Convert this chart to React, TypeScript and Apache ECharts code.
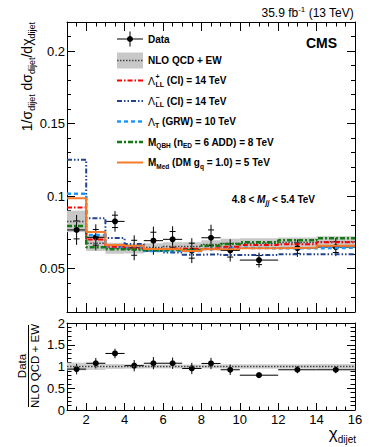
import React, { useEffect, useRef } from "react";
import * as echarts from "echarts";

// ---------------- data ----------------
const binEdges = [1, 2, 3, 4, 5, 6, 7, 8, 9, 10, 12, 14, 16];
const dataValues = [0.0766, 0.0715, 0.0825, 0.0643, 0.0692, 0.0701, 0.0623, 0.0712, 0.0625, 0.0558, 0.064, 0.0648];
const dataErrors = [0.0103, 0.009, 0.0071, 0.0086, 0.0097, 0.009, 0.0086, 0.009, 0.0077, 0.0052, 0.006, 0.0063];
const qcdValues = [0.0825, 0.0675, 0.064, 0.0635, 0.0645, 0.0652, 0.0652, 0.0665, 0.0672, 0.0675, 0.068, 0.0685];
const qcdRelUnc = [0.09, 0.08, 0.06, 0.05, 0.045, 0.045, 0.045, 0.045, 0.05, 0.05, 0.05, 0.055];
const ciPlusValues = [0.092, 0.07, 0.065, 0.064, 0.0635, 0.0638, 0.0635, 0.0639, 0.065, 0.0662, 0.0667, 0.0681];
const ciMinusValues = [0.125, 0.0846, 0.071, 0.0669, 0.062, 0.061, 0.0595, 0.0598, 0.0593, 0.0593, 0.0598, 0.0598];
const grwValues = [0.1015, 0.0731, 0.0646, 0.065, 0.062, 0.062, 0.062, 0.0635, 0.0643, 0.064, 0.0639, 0.0643];
const qbhValues = [0.0793, 0.0646, 0.0632, 0.0628, 0.0625, 0.0628, 0.0628, 0.0657, 0.0669, 0.0681, 0.0694, 0.0708];
const dmValues = [0.0984, 0.0752, 0.0662, 0.0657, 0.0635, 0.0632, 0.062, 0.0632, 0.0634, 0.0639, 0.0643, 0.0657];
const ratioValues = [0.94, 1.075, 1.3, 1.02, 1.075, 1.075, 0.955, 1.07, 0.925, 0.8, 0.925, 0.925];
const ratioErrors = [0.12, 0.12, 0.11, 0.13, 0.14, 0.13, 0.13, 0.13, 0.12, 0.065, 0.08, 0.08];

const xRange = [1, 16];
const xMajorTicks = [2, 4, 6, 8, 10, 12, 14, 16];
const mainYRange = [0.02, 0.22];
const mainYMajorTicks = [0.05, 0.1, 0.15, 0.2];
const ratioYRange = [0, 2];
const ratioYMajorTicks = [0, 0.5, 1, 1.5, 2];

// ---------------- helpers ----------------
const FONT = '"Liberation Sans", Arial, Helvetica, sans-serif';
let measureCtx: CanvasRenderingContext2D | null = null;
function measure(t: string, size: number, bold?: boolean, italic?: boolean) {
  if (!measureCtx) measureCtx = document.createElement("canvas").getContext("2d");
  if (!measureCtx) return t.length * size * 0.55;
  measureCtx.font = `${italic ? "italic " : ""}${bold ? "bold " : ""}${size}px ${FONT}`;
  return measureCtx.measureText(t).width;
}

type Seg = { t: string; s: number; dy?: number; dx?: number; b?: boolean; i?: boolean; adv?: boolean };
function textLine(segs: Seg[], x: number, y: number, align: "left" | "right" | "center", rotation = 0, color = "#000") {
  const widths = segs.map((g) => measure(g.t, g.s, g.b, g.i));
  let total = 0;
  segs.forEach((g, k) => {
    total += (g.dx || 0) + (g.adv === false ? 0 : widths[k]);
  });
  let cur = align === "left" ? 0 : align === "right" ? -total : -total / 2;
  const children = segs.map((g, k) => {
    cur += g.dx || 0;
    const el = {
      type: "text",
      x: cur,
      y: g.dy || 0,
      silent: true,
      style: {
        text: g.t,
        fill: color,
        fontSize: g.s,
        fontFamily: FONT,
        fontWeight: g.b ? "bold" : "normal",
        fontStyle: g.i ? "italic" : "normal",
        textAlign: "left",
        align: "left",
        textVerticalAlign: "middle",
        verticalAlign: "middle",
      },
    };
    if (g.adv !== false) cur += widths[k];
    return el;
  });
  return { type: "group", x, y, rotation, silent: true, children };
}

function stepPoints(vals: number[]) {
  const pts: number[][] = [];
  vals.forEach((v, i) => {
    pts.push([binEdges[i], v]);
    pts.push([binEdges[i + 1], v]);
  });
  return pts;
}

const fmt = (v: number) => String(parseFloat(v.toFixed(4)));

function xAxisPair(grid: number, pos: "top" | "bottom", majorLen: number, minorLen: number, labels: boolean) {
  const base = {
    type: "value",
    gridIndex: grid,
    position: pos,
    min: xRange[0],
    max: xRange[1],
    splitLine: { show: false },
    axisLine: { show: true, onZero: false, lineStyle: { color: "#000", width: 1 } },
  };
  return [
    {
      ...base,
      axisTick: { show: true, inside: true, length: majorLen, customValues: xMajorTicks, lineStyle: { color: "#000", width: 1 } },
      axisLabel: labels
        ? { show: true, customValues: xMajorTicks, fontSize: 13, fontFamily: FONT, color: "#000", margin: 3, formatter: fmt }
        : { show: false },
    },
    {
      ...base,
      interval: 0.5,
      axisLine: { show: false, onZero: false },
      axisTick: { show: true, inside: true, length: minorLen, lineStyle: { color: "#000", width: 1 } },
      axisLabel: { show: false },
    },
  ];
}

function yAxisPair(grid: number, pos: "left" | "right", range: number[], majors: number[], minorInt: number, majorLen: number, minorLen: number, labels: boolean) {
  const base = {
    type: "value",
    gridIndex: grid,
    position: pos,
    min: range[0],
    max: range[1],
    splitLine: { show: false },
    axisLine: { show: true, onZero: false, lineStyle: { color: "#000", width: 1 } },
  };
  return [
    {
      ...base,
      axisTick: { show: true, inside: true, length: majorLen, customValues: majors, lineStyle: { color: "#000", width: 1 } },
      axisLabel: labels
        ? { show: true, customValues: majors, fontSize: 13, fontFamily: FONT, color: "#000", margin: 2, formatter: fmt, showMinLabel: true, showMaxLabel: true }
        : { show: false },
    },
    {
      ...base,
      interval: minorInt,
      axisLine: { show: false, onZero: false },
      axisTick: { show: true, inside: true, length: minorLen, lineStyle: { color: "#000", width: 1 } },
      axisLabel: { show: false },
    },
  ];
}

const styles = {
  ciPlus: { color: "#ff0000", type: [5, 2, 1.5, 2], width: 2 },
  ciMinus: { color: "#22428f", type: [5, 2, 1.5, 2, 1.5, 2], width: 2 },
  grw: { color: "#1e96ff", type: [4, 3], width: 2.5 },
  qbh: { color: "#137a13", type: [5, 2, 2, 2], width: 2.5 },
  dm: { color: "#f57a2a", type: "solid", width: 2 },
  qcd: { color: "#444444", type: [1.5, 1.5], width: 1.5 },
};

function stepSeries(name: string, vals: number[], ls: any, xi: number, yi: number) {
  return {
    name,
    type: "line",
    xAxisIndex: xi,
    yAxisIndex: yi,
    data: stepPoints(vals),
    showSymbol: false,
    symbol: "none",
    silent: true,
    lineStyle: { color: ls.color, type: ls.type, width: ls.width },
  };
}

function bandSeries(center: number[], rel: number[], xi: number, yi: number, color: string) {
  return {
    type: "custom",
    xAxisIndex: xi,
    yAxisIndex: yi,
    silent: true,
    encode: { x: [0, 1], y: [2, 3] },
    data: center.map((c, i) => [binEdges[i], binEdges[i + 1], c * (1 - rel[i]), c * (1 + rel[i])]),
    renderItem: (params: any, api: any) => {
      const p1 = api.coord([api.value(0), api.value(3)]);
      const p2 = api.coord([api.value(1), api.value(2)]);
      return {
        type: "rect",
        shape: { x: p1[0], y: p1[1], width: p2[0] - p1[0], height: p2[1] - p1[1] },
        style: { fill: color },
      };
    },
  };
}

function pointsSeries(vals: number[], errs: number[], xi: number, yi: number, statTicks: boolean) {
  return {
    type: "custom",
    xAxisIndex: xi,
    yAxisIndex: yi,
    silent: true,
    encode: { x: 0, y: 1 },
    data: vals.map((v, i) => [(binEdges[i] + binEdges[i + 1]) / 2, v, errs[i], binEdges[i], binEdges[i + 1]]),
    renderItem: (params: any, api: any) => {
      const c = api.value(0), v = api.value(1), e = api.value(2), lo = api.value(3), hi = api.value(4);
      const pc = api.coord([c, v]);
      const pl = api.coord([lo, v]);
      const ph = api.coord([hi, v]);
      const pt = api.coord([c, v + e]);
      const pb = api.coord([c, v - e]);
      const children: any[] = [
        { type: "line", shape: { x1: pl[0], y1: pl[1], x2: ph[0], y2: ph[1] }, style: { stroke: "#000", lineWidth: 1 } },
        { type: "line", shape: { x1: pt[0], y1: pt[1], x2: pb[0], y2: pb[1] }, style: { stroke: "#000", lineWidth: 1 } },
      ];
      if (statTicks) {
        const s1 = api.coord([c, v + 0.6 * e]);
        const s2 = api.coord([c, v - 0.6 * e]);
        children.push({ type: "line", shape: { x1: s1[0] - 3, y1: s1[1], x2: s1[0] + 3, y2: s1[1] }, style: { stroke: "#000", lineWidth: 1 } });
        children.push({ type: "line", shape: { x1: s2[0] - 3, y1: s2[1], x2: s2[0] + 3, y2: s2[1] }, style: { stroke: "#000", lineWidth: 1 } });
      }
      children.push({ type: "circle", shape: { cx: pc[0], cy: pc[1], r: 3 }, style: { fill: "#000" } });
      return { type: "group", children };
    },
  };
}

function buildGraphics() {
  const g: any[] = [];
  // lumi / CMS
  g.push(textLine([{ t: "35.9 fb", s: 12 }, { t: "-1", s: 8, dy: -4 }, { t: " (13 TeV)", s: 12 }], 354, 13, "right"));
  g.push(textLine([{ t: "CMS", s: 14, b: true }], 337, 43, "right"));
  // mass range label
  g.push(
    textLine(
      [
        { t: "4.8 < ", s: 10, b: true },
        { t: "M", s: 10, b: true, i: true },
        { t: "jj", s: 7, dy: 3.5, b: true, i: true },
        { t: " < 5.4 TeV", s: 10, b: true },
      ],
      315,
      199,
      "right"
    )
  );
  // main y title
  g.push(
    textLine(
      [
        { t: "1/σ", s: 14 },
        { t: "dijet", s: 9, dy: 4.5 },
        { t: " dσ", s: 14 },
        { t: "dijet", s: 9, dy: 4.5 },
        { t: "/dχ", s: 14 },
        { t: "dijet", s: 9, dy: 4.5 },
      ],
      27,
      22,
      "right",
      Math.PI / 2
    )
  );
  // ratio y title (fraction)
  g.push(textLine([{ t: "Data", s: 11.5 }], 22, 366, "center", Math.PI / 2));
  g.push(textLine([{ t: "NLO QCD + EW", s: 11.5 }], 35, 366, "center", Math.PI / 2));
  g.push({ type: "line", silent: true, shape: { x1: 28.5, y1: 325, x2: 28.5, y2: 407 }, style: { stroke: "#000", lineWidth: 1 } });
  // x title
  g.push(textLine([{ t: "χ", s: 17 }, { t: "dijet", s: 10, dy: 6 }], 356, 433, "right"));

  // legend
  const lx1 = 117, lx2 = 143, tx = 148;
  const rows = [39, 60.5, 80.5, 101, 121.5, 142, 162.5];
  // Data
  g.push({ type: "line", silent: true, shape: { x1: lx1, y1: rows[0], x2: lx2, y2: rows[0] }, style: { stroke: "#000", lineWidth: 1 } });
  g.push({ type: "line", silent: true, shape: { x1: 130, y1: rows[0] - 7.5, x2: 130, y2: rows[0] + 7.5 }, style: { stroke: "#000", lineWidth: 1 } });
  g.push({ type: "circle", silent: true, shape: { cx: 130, cy: rows[0], r: 3 }, style: { fill: "#000" } });
  g.push(textLine([{ t: "Data", s: 10, b: true }], tx, rows[0], "left"));
  // NLO
  g.push({ type: "rect", silent: true, shape: { x: lx1, y: rows[1] - 8, width: lx2 - lx1, height: 16 }, style: { fill: "#c8c8c8" } });
  g.push({ type: "line", silent: true, shape: { x1: lx1, y1: rows[1], x2: lx2, y2: rows[1] }, style: { stroke: styles.qcd.color, lineWidth: 1.5, lineDash: [1.5, 1.5] } });
  g.push(textLine([{ t: "NLO QCD + EW", s: 10, b: true }], tx, rows[1], "left"));
  const lineEntry = (y: number, ls: any) => ({
    type: "line",
    silent: true,
    shape: { x1: lx1, y1: y, x2: lx2, y2: y },
    style: { stroke: ls.color, lineWidth: ls.width, lineDash: Array.isArray(ls.type) ? ls.type : null },
  });
  g.push(lineEntry(rows[2], styles.ciPlus));
  g.push(
    textLine(
      [
        { t: "Λ", s: 10.5 },
        { t: "+", s: 7, dy: -4, dx: 0.5, adv: false, b: true },
        { t: "LL", s: 7, dy: 3.5, b: true },
        { t: " (CI) = 14 TeV", s: 10, b: true },
      ],
      tx,
      rows[2],
      "left"
    )
  );
  g.push(lineEntry(rows[3], styles.ciMinus));
  g.push(
    textLine(
      [
        { t: "Λ", s: 10.5 },
        { t: "−", s: 7, dy: -4, dx: 0.5, adv: false, b: true },
        { t: "LL", s: 7, dy: 3.5, b: true },
        { t: " (CI) = 14 TeV", s: 10, b: true },
      ],
      tx,
      rows[3],
      "left"
    )
  );
  g.push(lineEntry(rows[4], styles.grw));
  g.push(
    textLine(
      [
        { t: "Λ", s: 10.5 },
        { t: "T", s: 7, dy: 3.5, b: true },
        { t: " (GRW) = 10 TeV", s: 10, b: true },
      ],
      tx,
      rows[4],
      "left"
    )
  );
  g.push(lineEntry(rows[5], styles.qbh));
  g.push(
    textLine(
      [
        { t: "M", s: 10, b: true },
        { t: "QBH", s: 6.5, dy: 3.5, b: true },
        { t: " (n", s: 10, b: true },
        { t: "ED", s: 6.5, dy: 3.5, b: true },
        { t: " = 6 ADD) = 8 TeV", s: 10, b: true },
      ],
      tx,
      rows[5],
      "left"
    )
  );
  g.push(lineEntry(rows[6], styles.dm));
  g.push(
    textLine(
      [
        { t: "M", s: 10, b: true },
        { t: "Med", s: 6.5, dy: 3.5, b: true },
        { t: " (DM g", s: 10, b: true },
        { t: "q", s: 6.5, dy: 3.5, b: true },
        { t: " = 1.0) = 5 TeV", s: 10, b: true },
      ],
      tx,
      rows[6],
      "left"
    )
  );
  return g;
}

export default function App() {
  const ref = useRef<HTMLDivElement>(null);
  useEffect(() => {
    if (!ref.current) return;
    const chart = echarts.init(ref.current, null, { renderer: "svg" });
    const xAxis = [
      ...xAxisPair(0, "bottom", 9, 4.5, false),
      ...xAxisPair(0, "top", 9, 4.5, false),
      ...xAxisPair(1, "bottom", 7, 3.5, true),
      ...xAxisPair(1, "top", 7, 3.5, false),
    ];
    const yAxis = [
      ...yAxisPair(0, "left", mainYRange, mainYMajorTicks, 0.01, 8, 4, true),
      ...yAxisPair(0, "right", mainYRange, mainYMajorTicks, 0.01, 8, 4, false),
      ...yAxisPair(1, "left", ratioYRange, ratioYMajorTicks, 0.1, 8, 4.5, true),
      ...yAxisPair(1, "right", ratioYRange, ratioYMajorTicks, 0.1, 8, 4.5, false),
    ];
    const option: any = {
      animation: false,
      backgroundColor: "#fff",
      textStyle: { fontFamily: FONT },
      grid: [
        { left: 67, top: 22, width: 288, height: 290, containLabel: false },
        { left: 67, top: 323, width: 288, height: 87, containLabel: false },
      ],
      xAxis,
      yAxis,
      series: [
        bandSeries(qcdValues, qcdRelUnc, 0, 0, "#c8c8c8"),
        stepSeries("NLO QCD + EW", qcdValues, styles.qcd, 0, 0),
        stepSeries("CI-", ciMinusValues, styles.ciMinus, 0, 0),
        stepSeries("GRW", grwValues, styles.grw, 0, 0),
        stepSeries("CI+", ciPlusValues, styles.ciPlus, 0, 0),
        stepSeries("QBH", qbhValues, styles.qbh, 0, 0),
        stepSeries("DM", dmValues, styles.dm, 0, 0),
        pointsSeries(dataValues, dataErrors, 0, 0, true),
        bandSeries(qcdValues.map(() => 1), qcdRelUnc, 4, 4, "#d0d0d0"),
        {
          type: "line",
          xAxisIndex: 4,
          yAxisIndex: 4,
          data: [[xRange[0], 1], [xRange[1], 1]],
          showSymbol: false,
          symbol: "none",
          silent: true,
          lineStyle: { color: "#444", type: [1.5, 1.5], width: 1.5 },
        },
        pointsSeries(ratioValues, ratioErrors, 4, 4, false),
      ],
      graphic: buildGraphics(),
    };
    chart.setOption(option);
    return () => chart.dispose();
  }, []);
  return <div ref={ref} style={{ position: "absolute", left: 0, top: 0, width: 374, height: 447, background: "#fff" }} />;
}
